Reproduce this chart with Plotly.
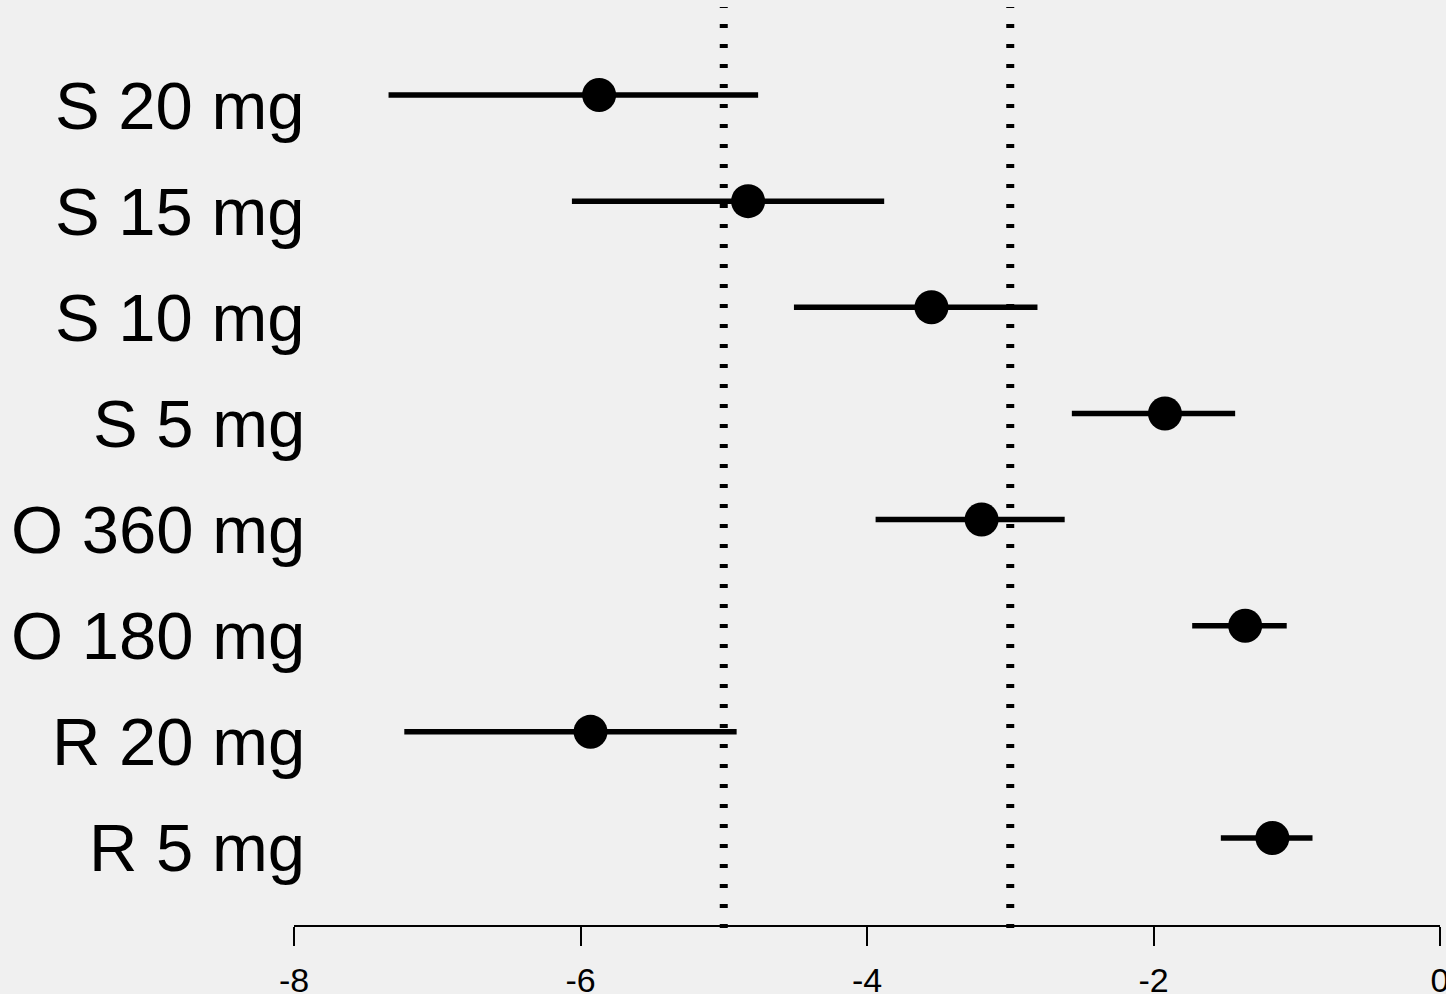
import plotly.graph_objects as go

# ---- data (top to bottom as shown) ----
categories = ["S 20 mg", "S 15 mg", "S 10 mg", "S 5 mg",
              "O 360 mg", "O 180 mg", "R 20 mg", "R 5 mg"]
estimate = [-5.87, -4.83, -3.55, -1.92, -3.20, -1.36, -5.93, -1.17]
lower = [-7.34, -6.06, -4.51, -2.57, -3.94, -1.73, -7.23, -1.53]
upper = [-4.76, -3.88, -2.81, -1.43, -2.62, -1.07, -4.91, -0.89]
ref_lines = [-5, -3]
x_ticks = [-8, -6, -4, -2, 0]
x_tick_labels = ["-8", "-6", "-4", "-2", "0"]

FONT = "Liberation Sans, Arial, Helvetica, sans-serif"
BG = "#f0f0f0"

err_plus = [u - e for u, e in zip(upper, estimate)]
err_minus = [e - l for e, l in zip(estimate, lower)]

fig = go.Figure()
fig.add_trace(go.Scatter(
    x=estimate, y=categories, mode="markers",
    marker=dict(size=34, color="black", line=dict(width=0)),
    error_x=dict(type="data", symmetric=False, array=err_plus,
                 arrayminus=err_minus, thickness=5.5, width=0, color="black"),
    showlegend=False, hoverinfo="skip",
))

for xv in ref_lines:
    fig.add_shape(type="line", xref="x", yref="paper",
                  x0=xv, x1=xv, y0=-0.0032, y1=0.9924,
                  line=dict(color="black", width=8, dash="4px,16px"),
                  layer="above")

for c in categories:
    fig.add_annotation(x=0, xref="paper", y=c, yref="y", text=c,
                       showarrow=False, xanchor="right", yanchor="middle",
                       xshift=13, yshift=-10,
                       font=dict(family=FONT, size=67, color="black"))

n = len(categories)
fig.update_layout(
    width=1446, height=994,
    margin=dict(l=294, r=6, t=0, b=69, autoexpand=False),
    paper_bgcolor=BG, plot_bgcolor=BG,
    font=dict(family=FONT, color="black"),
    xaxis=dict(range=[-8, 0], tickvals=x_ticks, ticktext=x_tick_labels,
               showline=True, linecolor="black", linewidth=2,
               ticks="outside", ticklen=19, tickwidth=2, tickcolor="black",
               showgrid=False, zeroline=False, ticklabeloverflow="allow",
               ticklabelstandoff=5, automargin=False,
               tickfont=dict(family=FONT, size=34, color="black")),
    yaxis=dict(type="category", categoryorder="array",
               categoryarray=categories[::-1],
               range=[-0.8197, n - 1 + 0.895], automargin=False,
               showticklabels=False, showgrid=False, zeroline=False,
               showline=False, ticks=""),
)

fig.write_html("out.html")
